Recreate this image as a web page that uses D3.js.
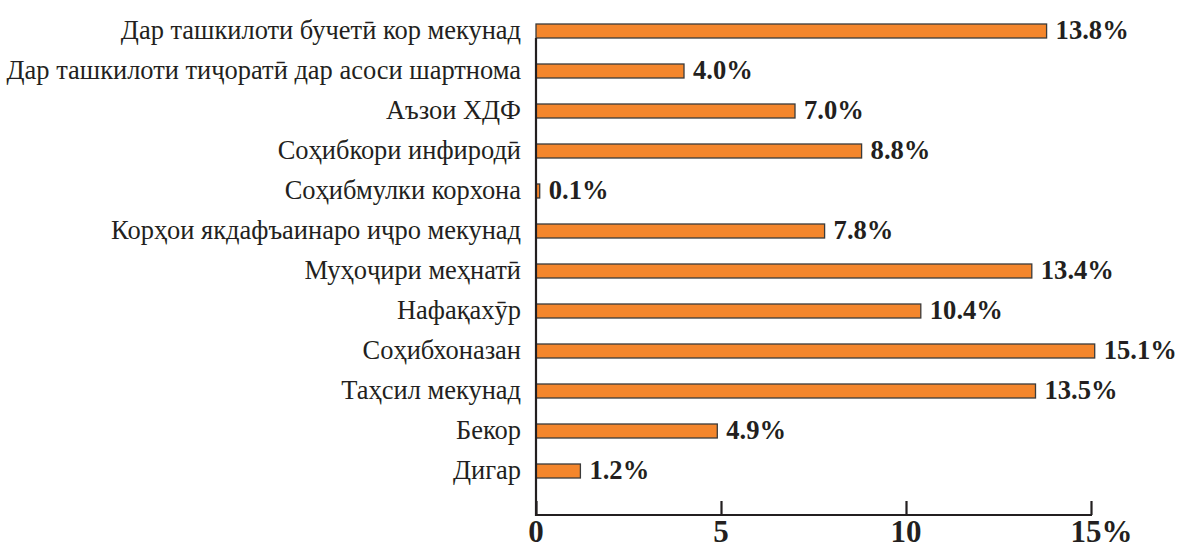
<!DOCTYPE html>
<html><head><meta charset="utf-8">
<script src="https://cdn.jsdelivr.net/npm/d3@7"></script>
<style>
html,body{margin:0;padding:0;background:#fff;overflow:hidden;}
text{font-family:"Liberation Serif","Times New Roman",serif;}
</style></head>
<body><svg id="c" width="1193" height="544"></svg>
<script>
const categories = [
  "Дар ташкилоти бучетӣ кор мекунад",
  "Дар ташкилоти тиҷоратӣ дар асоси шартнома",
  "Аъзои ХДФ",
  "Соҳибкори инфиродӣ",
  "Соҳибмулки корхона",
  "Корҳои якдафъаинаро иҷро мекунад",
  "Муҳоҷири меҳнатӣ",
  "Нафақахӯр",
  "Соҳибхоназан",
  "Таҳсил мекунад",
  "Бекор",
  "Дигар"
];
const values = [13.8, 4.0, 7.0, 8.8, 0.1, 7.8, 13.4, 10.4, 15.1, 13.5, 4.9, 1.2];
const valueLabels = ["13.8%","4.0%","7.0%","8.8%","0.1%","7.8%","13.4%","10.4%","15.1%","13.5%","4.9%","1.2%"];
const tickValues = [0, 5, 10, 15];
const tickLabels = ["0", "5", "10", "15"];

const svg = d3.select("#c");
const x = d3.scaleLinear().domain([0, 15]).range([536, 1091]);
const y = d3.scaleBand().domain(categories).range([11, 491]).paddingInner(0.65).paddingOuter(0.325);
const axisY = 515;

// bars
svg.selectAll("rect.bar").data(values).enter().append("rect")
  .attr("class","bar")
  .attr("x", x(0))
  .attr("y", (d,i)=>y(categories[i]))
  .attr("width", d=>x(d)-x(0))
  .attr("height", y.bandwidth())
  .attr("fill", "#F4862C")
  .attr("stroke", "#3b3b3b")
  .attr("stroke-width", 1.3);

// vertical axis line
svg.append("line")
  .attr("x1", x(0)).attr("x2", x(0))
  .attr("y1", y(categories[0]) + y.bandwidth()).attr("y2", axisY + 1)
  .attr("stroke", "#231f20").attr("stroke-width", 2.2);

// x axis (ticks pointing up)
const xAxis = d3.axisTop(x).tickValues(tickValues).tickSize(14).tickFormat("");
const gx = svg.append("g").attr("transform", `translate(0,${axisY})`).call(xAxis);
gx.select(".domain").attr("d", `M${x(0)-1},0H${x(15)+1}`).attr("stroke","#231f20").attr("stroke-width",2.2);
gx.selectAll(".tick line").attr("stroke","#231f20").attr("stroke-width",2.2);

// tick labels
tickValues.forEach((v,i)=>{
  const t = svg.append("text")
    .attr("x", x(v)).attr("y", 542)
    .attr("text-anchor","middle")
    .attr("font-size", 31).attr("font-weight","bold").attr("fill","#231f20")
    .text(tickLabels[i]);
  if (i === tickValues.length - 1) {
    const w = t.node().getComputedTextLength();
    t.attr("x", x(v) - 5);
    svg.append("text")
      .attr("x", x(v) - 5 + w/2).attr("y", 542)
      .attr("font-size", 31).attr("font-weight","bold").attr("fill","#231f20")
      .text("%");
  }
});

// category labels
const labelX = 521;
svg.selectAll("text.cat").data(categories).enter().append("text")
  .attr("class","cat")
  .attr("text-anchor","end")
  .attr("font-size", 27)
  .attr("fill","#231f20")
  .attr("transform", d=>`translate(${labelX},${y(d)+y.bandwidth()/2+8}) scale(0.98,1)`)
  .text(d=>d);

// value labels
const valScale = 0.95;
svg.selectAll("text.val").data(values).enter().append("text")
  .attr("class","val")
  .attr("font-size", 28).attr("font-weight","bold").attr("fill","#231f20")
  .attr("transform", (d,i)=>`translate(${x(d)+9},${y(categories[i])+y.bandwidth()/2+8}) scale(${valScale},1)`)
  .text((d,i)=>valueLabels[i]);
</script></body></html>
